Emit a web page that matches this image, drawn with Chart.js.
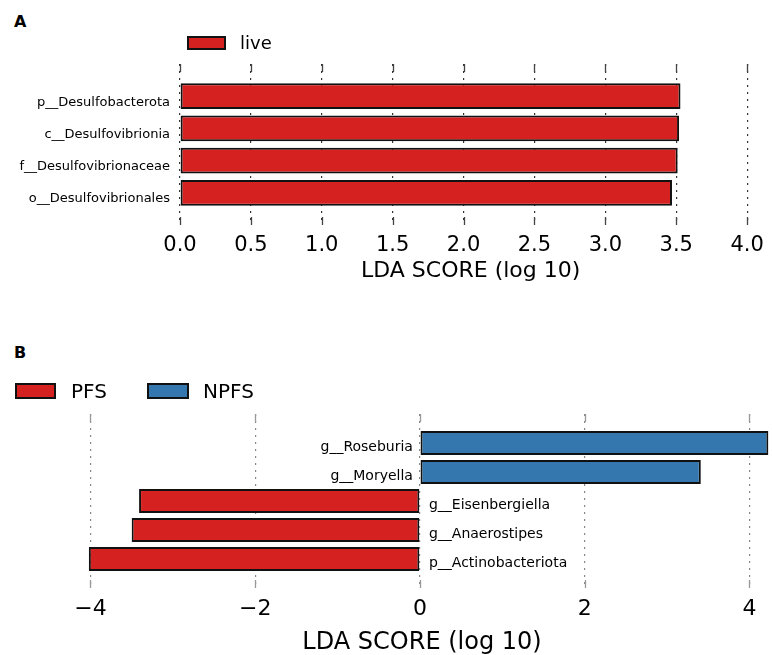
<!DOCTYPE html>
<html>
<head>
<meta charset="utf-8">
<script src="https://cdn.jsdelivr.net/npm/chart.js@4.4.1/dist/chart.umd.min.js"></script>
<style>
  body { margin: 0; background: #fff; font-family: "DejaVu Sans", sans-serif; }
  #wrap { position: relative; width: 772px; height: 655px; overflow: hidden; }
  canvas { position: absolute; left: 0; }
  .tag { position: absolute; font-weight: bold; font-size: 16px; line-height: 1; }
  .legbox { position: absolute; box-sizing: border-box; border: 2px solid #111; }
  .legtxt { position: absolute; line-height: 1; color: #000; white-space: nowrap; }
</style>
</head>
<body>
<div id="wrap">
  <div class="tag" style="left:14px; top:14px;">A</div>
  <div class="tag" style="left:14px; top:345px;">B</div>
  <canvas id="chartA" width="772" height="284" style="top:0"></canvas>
  <canvas id="chartB" width="772" height="317" style="top:340px"></canvas>
</div>
<script>
// panel A data
const namesA = ['p__Desulfobacterota', 'c__Desulfovibrionia', 'f__Desulfovibrionaceae', 'o__Desulfovibrionales'];
const scoresA = [3.53, 3.52, 3.51, 3.47];
const classA = 'live';
const ticksA = [0, 0.5, 1, 1.5, 2, 2.5, 3, 3.5, 4];

// panel B data
const namesB = ['g__Roseburia', 'g__Moryella', 'g__Eisenbergiella', 'g__Anaerostipes', 'p__Actinobacteriota'];
const scoresB = [4.23, 3.41, -3.41, -3.50, -4.02];
const groupsB = ['NPFS', 'NPFS', 'PFS', 'PFS', 'PFS'];
const classesB = ['PFS', 'NPFS'];
const ticksB = [-4, -2, 0, 2, 4];

const colors = { live: '#d62121', PFS: '#d62121', NPFS: '#3477ae' };

Chart.defaults.font.family = '"DejaVu Sans", sans-serif';
Chart.defaults.color = '#000';

// legends (html)
const wrap = document.getElementById('wrap');
function legendItem(name, boxX, boxY, boxW, boxH, txtX, txtY, size) {
  const b = document.createElement('div');
  b.className = 'legbox';
  b.style.cssText = `left:${boxX}px;top:${boxY}px;width:${boxW}px;height:${boxH}px;background:${colors[name]}`;
  wrap.appendChild(b);
  const t = document.createElement('div');
  t.className = 'legtxt';
  t.style.cssText = `left:${txtX}px;top:${txtY}px;font-size:${size}px`;
  t.textContent = name;
  wrap.appendChild(t);
}
legendItem(classA, 187, 36, 39, 14, 240, 34, 18);
legendItem(classesB[0], 15, 383, 41, 16, 71, 380.5, 20);
legendItem(classesB[1], 147, 383, 42, 16, 203, 380.5, 20);

// short solid ticks at the top and bottom of each grid line
const edgeTicks = {
  id: 'edgeTicks',
  afterDraw(chart, args, opts) {
    const { ctx, chartArea: { top, bottom }, scales: { x } } = chart;
    ctx.save();
    ctx.strokeStyle = opts.color;
    ctx.lineWidth = 1.3;
    x.ticks.forEach(t => {
      const px = Math.round(x.getPixelForValue(t.value)) + 0.5;
      ctx.beginPath();
      ctx.moveTo(px, top);
      ctx.lineTo(px, top + 8);
      ctx.moveTo(px, bottom - 8);
      ctx.lineTo(px, bottom);
      ctx.stroke();
    });
    ctx.restore();
  }
};

// names written beside the zero line in panel B
const barLabels = {
  id: 'barLabels',
  afterDatasetsDraw(chart) {
    const { ctx, scales: { x, y } } = chart;
    const x0 = x.getPixelForValue(0);
    ctx.save();
    ctx.font = '14px "DejaVu Sans"';
    ctx.fillStyle = '#000';
    ctx.textBaseline = 'middle';
    namesB.forEach((n, i) => {
      const py = y.getPixelForValue(i) + 4;
      if (scoresB[i] >= 0) {
        ctx.textAlign = 'right';
        ctx.fillText(n, x0 - 7, py);
      } else {
        ctx.textAlign = 'left';
        ctx.fillText(n, x0 + 9, py);
      }
    });
    ctx.restore();
  }
};

new Chart(document.getElementById('chartA'), {
  type: 'bar',
  data: {
    datasets: [{
      label: classA,
      data: namesA.map((n, i) => ({ x: scoresA[i], y: i })),
      backgroundColor: colors[classA],
      borderColor: '#111',
      borderWidth: 2,
      borderSkipped: false,
      barPercentage: 0.8,
      categoryPercentage: 1
    }]
  },
  options: {
    indexAxis: 'y',
    responsive: false,
    animation: false,
    layout: { padding: { top: 64, right: 7, left: 0, bottom: 0 } },
    plugins: {
      legend: { display: false },
      tooltip: { enabled: false },
      edgeTicks: { color: '#444' }
    },
    scales: {
      x: {
        type: 'linear',
        min: 0,
        max: 4.1,
        z: 1,
        afterBuildTicks: s => { s.ticks = ticksA.map(v => ({ value: v })); },
        afterFit: s => { s.height = 59; },
        ticks: { font: { size: 21 }, color: '#000', padding: 8, callback: v => v.toFixed(1) },
        grid: { color: '#333', lineWidth: 1.2, drawTicks: false },
        border: { display: false, dash: [2, 5] },
        title: { display: true, text: 'LDA SCORE (log 10)', font: { size: 22 }, color: '#000', padding: 0 }
      },
      y: {
        type: 'linear',
        min: -1,
        max: namesA.length,
        reverse: true,
        offset: false,
        afterBuildTicks: s => { s.ticks = namesA.map((n, i) => ({ value: i })); },
        afterFit: s => { s.width = 180; },
        ticks: { font: { size: 13 }, color: '#000', padding: 10, labelOffset: 6, callback: v => namesA[v] },
        grid: { display: false, drawTicks: false },
        border: { display: false }
      }
    }
  },
  plugins: [edgeTicks]
});

new Chart(document.getElementById('chartB'), {
  type: 'bar',
  data: {
    datasets: [{
      label: 'LDA',
      data: namesB.map((n, i) => ({ x: scoresB[i], y: i })),
      backgroundColor: groupsB.map(g => colors[g]),
      borderColor: '#111',
      borderWidth: 2,
      borderSkipped: false,
      barPercentage: 0.83,
      categoryPercentage: 1
    }]
  },
  options: {
    indexAxis: 'y',
    responsive: false,
    animation: false,
    layout: { padding: { top: 74, right: 2, left: 0, bottom: 0 } },
    plugins: {
      legend: { display: false },
      tooltip: { enabled: false },
      edgeTicks: { color: '#999' }
    },
    scales: {
      x: {
        type: 'linear',
        min: -4.2,
        max: 4.25,
        z: 1,
        afterBuildTicks: s => { s.ticks = ticksB.map(v => ({ value: v })); },
        afterFit: s => { s.height = 69; },
        ticks: { font: { size: 22 }, color: '#000', padding: 8, callback: v => String(v).replace('-', '\u2212') },
        grid: { color: '#888', lineWidth: 1.2, drawTicks: false },
        border: { display: false, dash: [2, 5] },
        title: { display: true, text: 'LDA SCORE (log 10)', font: { size: 24 }, color: '#000', padding: 0 }
      },
      y: {
        type: 'linear',
        min: -1,
        max: namesB.length,
        reverse: true,
        offset: false,
        afterBuildTicks: s => { s.ticks = namesB.map((n, i) => ({ value: i })); },
        afterFit: s => { s.width = 74; },
        ticks: { display: false },
        grid: { display: false, drawTicks: false },
        border: { display: false }
      }
    }
  },
  plugins: [edgeTicks, barLabels]
});
</script>
</body>
</html>
